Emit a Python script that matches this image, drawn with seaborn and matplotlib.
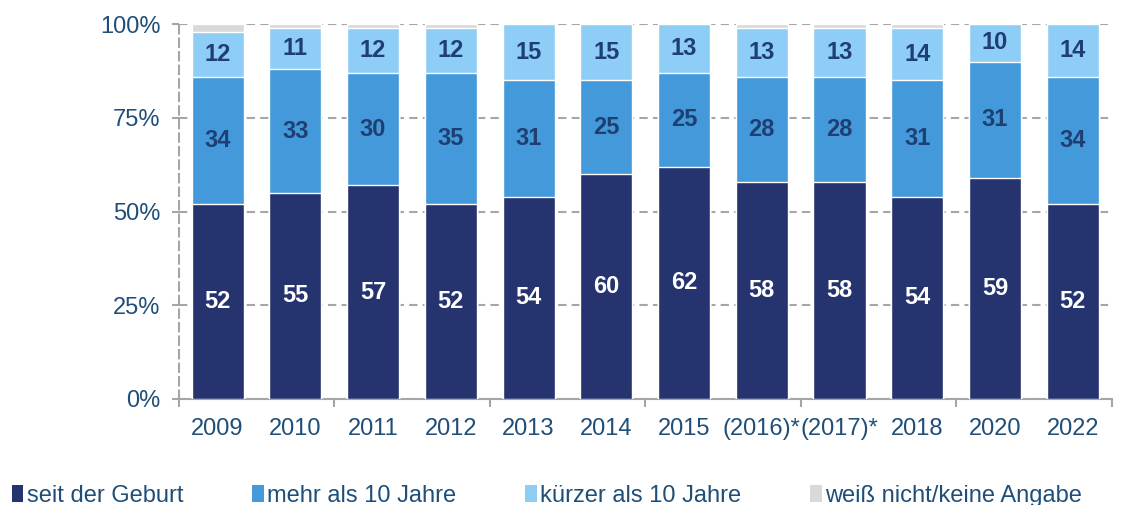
import numpy as np
import pandas as pd
import matplotlib
matplotlib.use("Agg")
import matplotlib.pyplot as plt
from matplotlib.patches import Patch
import seaborn as sns

# Survey years and shares (in percent) per answer category
years = ["2009", "2010", "2011", "2012", "2013", "2014", "2015",
         "(2016)*", "(2017)*", "2018", "2020", "2022"]
seit_geburt = [52, 55, 57, 52, 54, 60, 62, 58, 58, 54, 59, 52]
mehr_10 = [34, 33, 30, 35, 31, 25, 25, 28, 28, 31, 31, 34]
kuerzer_10 = [12, 11, 12, 12, 15, 15, 13, 13, 13, 14, 10, 14]
weiss_nicht = [2, 1, 1, 1, 0, 0, 0, 1, 1, 1, 0, 0]

series_names = ["seit der Geburt", "mehr als 10 Jahre",
                "kürzer als 10 Jahre", "weiß nicht/keine Angabe"]
series_values = [seit_geburt, mehr_10, kuerzer_10, weiss_nicht]
colors = ["#25336F", "#4399DA", "#8ECEF6", "#D9D9D9"]
label_colors = ["white", "#1F3F73", "#1F3F73", None]
text_blue = "#1F4E79"
grid_gray = "#A6A6A6"

sns.set_theme(style="white")
plt.rcParams["font.family"] = ["Liberation Sans", "DejaVu Sans"]

fig = plt.figure(figsize=(11.24, 5.05), dpi=100)
ax = fig.add_axes([0.159, 0.210, 0.830, 0.742])

vals = np.array(series_values, dtype=float)
cum = np.cumsum(vals, axis=0)

# Stacked bars: draw cumulative totals from the top segment down
for i in range(len(series_names) - 1, -1, -1):
    df = pd.DataFrame({"Jahr": years, "Wert": cum[i]})
    sns.barplot(data=df, x="Jahr", y="Wert", color=colors[i], width=0.67,
                saturation=1, ax=ax, zorder=3, order=years)

# Value labels centred in each segment
for i in range(3):
    bottoms = cum[i] - vals[i]
    for j, v in enumerate(vals[i]):
        ax.text(j, bottoms[j] + v / 2, f"{int(v)}", ha="center", va="center",
                fontsize=17, fontweight="bold", color=label_colors[i], zorder=5)

ax.set_xlim(-0.5, len(years) - 0.5)
ax.set_ylim(0, 100)
ax.set_xlabel("")
ax.set_ylabel("")

ax.set_yticks([0, 25, 50, 75, 100])
ax.set_yticklabels(["0%", "25%", "50%", "75%", "100%"])
ax.yaxis.grid(True, linestyle=(0, (4, 2.5)), color=grid_gray, linewidth=1.5, zorder=0)
ax.set_axisbelow(True)

ax.tick_params(axis="y", which="major", left=True, length=5, width=1.5,
               color=grid_gray, labelsize=17, labelcolor=text_blue, pad=8)
ax.tick_params(axis="x", which="major", bottom=True, length=0,
               labelsize=17, labelcolor=text_blue, pad=14)
ax.set_xticks(np.arange(-0.5, len(years), 2), minor=True)
ax.tick_params(axis="x", which="minor", bottom=True, length=6, width=1.5,
               color=grid_gray)

for s in ["top", "right"]:
    ax.spines[s].set_visible(False)
ax.spines["left"].set_linestyle((0, (4, 2.5)))
ax.spines["left"].set_color(grid_gray)
ax.spines["left"].set_linewidth(1.5)
ax.spines["bottom"].set_color(grid_gray)
ax.spines["bottom"].set_linewidth(1.5)

handles = [Patch(facecolor=c, edgecolor="none") for c in colors]
leg = fig.legend(handles, series_names, loc="center left",
                 bbox_to_anchor=(0.004, 0.018), ncol=4, frameon=False,
                 fontsize=17, handlelength=0.5, handleheight=0.75,
                 handletextpad=0.15, columnspacing=2.9, borderaxespad=0,
                 borderpad=0.3)
for t in leg.get_texts():
    t.set_color(text_blue)

fig.savefig("out.png", dpi=100)
